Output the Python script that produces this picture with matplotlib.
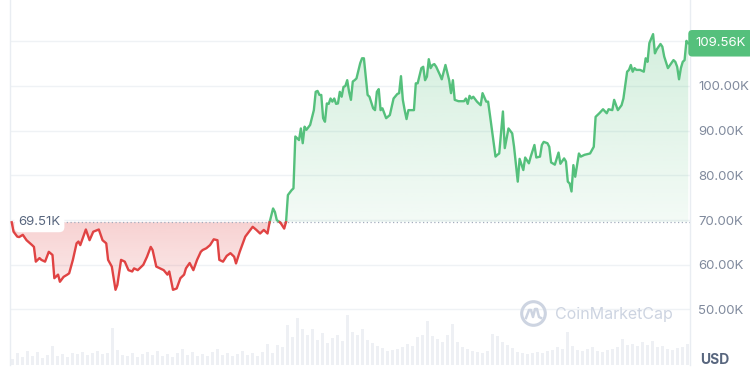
import numpy as np
import matplotlib
matplotlib.use('Agg')
import matplotlib.pyplot as plt
from matplotlib.patches import PathPatch
from matplotlib.path import Path
from matplotlib.lines import Line2D

plt.rcParams['font.family'] = ['Inter', 'DejaVu Sans']

# price in thousands USD, x = day index over the year
days = [0, 1, 3, 4, 6, 8, 11, 12, 13, 15, 16, 18, 20, 22, 23, 25, 26, 28, 30, 31,
        33, 35, 36, 37, 39, 40, 42, 44, 47, 49, 51, 52, 54, 56, 57, 59, 61, 63, 65, 66,
        68, 71, 73, 75, 76, 78, 80, 82, 84, 85, 87, 89, 91, 93, 94, 96, 98, 100, 102, 103,
        105, 107, 109, 111, 112, 114, 116, 118, 120, 121, 123, 126, 128, 130, 132, 134, 136, 138, 139, 141,
        142, 143, 145, 147, 148, 149, 151, 152, 153, 155, 156, 157, 158, 159, 161, 163, 164, 165, 166, 167,
        168, 169, 170, 171, 172, 173, 174, 175, 176, 177, 178, 179, 180, 181, 182, 183, 184, 185, 186, 188,
        189, 190, 191, 192, 193, 195, 196, 197, 198, 199, 200, 202, 204, 206, 208, 209, 210, 211, 212, 213,
        214, 217, 218, 219, 221, 222, 223, 224, 225, 226, 227, 228, 229, 231, 232, 234, 236, 237, 238, 239,
        241, 244, 245, 246, 247, 248, 249, 251, 253, 254, 256, 257, 258, 261, 262, 263, 265, 266, 268, 270,
        271, 273, 274, 276, 277, 279, 280, 282, 283, 285, 286, 287, 289, 290, 291, 293, 295, 296, 298, 299,
        300, 301, 302, 303, 304, 306, 307, 309, 312, 314, 315, 317, 319, 321, 322, 324, 325, 327, 329, 330,
        332, 333, 334, 335, 336, 337, 339, 341, 342, 343, 344, 346, 347, 348, 350, 351, 352, 354, 357, 358,
        359, 360, 361, 362, 363, 364, 365]
price = [69.51, 67.4, 66.3, 66.2, 66.7, 65.5, 64.4, 64.0, 60.7, 61.5, 61.1, 60.7, 62.9, 62.2, 57.0, 57.8, 56.2, 57.3, 57.8, 58.1,
         61.1, 64.8, 65.2, 64.4, 66.7, 67.9, 65.5, 67.4, 67.9, 65.5, 64.8, 61.1, 59.6, 54.4, 55.5, 61.1, 60.7, 58.8, 58.5, 59.2,
         58.8, 60.0, 61.8, 64.0, 63.3, 59.6, 59.2, 58.8, 57.8, 58.5, 54.4, 54.7, 57.0, 57.8, 59.2, 60.4, 58.8, 61.1, 62.9, 63.3,
         63.7, 64.4, 65.7, 65.5, 61.1, 60.7, 62.0, 62.6, 61.8, 60.3, 62.9, 66.3, 67.4, 68.5, 67.8, 67.0, 67.8, 67.0, 69.3, 72.6,
         71.8, 70.0, 69.4, 68.1, 69.6, 75.6, 76.7, 77.1, 88.7, 87.9, 90.5, 87.2, 90.9, 90.2, 91.3, 94.6, 98.7, 98.9, 98.0, 98.0,
         92.8, 92.0, 96.1, 96.0, 97.2, 96.5, 97.2, 96.0, 96.1, 98.7, 97.6, 99.8, 100.0, 101.3, 98.7, 96.9, 101.0, 101.3, 101.7, 105.1,
         106.2, 106.2, 102.1, 98.0, 97.6, 95.0, 94.6, 98.7, 99.3, 94.6, 95.0, 92.8, 93.5, 97.2, 98.2, 98.4, 102.2, 96.9, 94.6, 92.6,
         94.6, 94.6, 100.6, 100.6, 104.0, 104.3, 101.3, 102.1, 106.0, 104.0, 104.7, 104.9, 104.3, 102.5, 101.5, 104.7, 101.3, 98.4, 101.3, 96.9,
         96.6, 96.6, 97.2, 96.0, 97.8, 97.2, 97.6, 96.5, 95.7, 98.4, 96.5, 96.5, 93.5, 84.2, 84.6, 84.9, 94.3, 86.1, 90.5, 89.4,
         86.4, 78.6, 83.7, 81.2, 84.0, 82.7, 84.2, 86.8, 84.0, 84.2, 86.8, 87.5, 87.2, 86.4, 82.9, 82.4, 85.1, 82.6, 83.8, 83.1,
         78.6, 78.2, 76.4, 82.3, 79.7, 84.9, 84.2, 84.6, 84.9, 86.4, 93.1, 93.9, 94.8, 93.9, 94.8, 94.6, 96.9, 94.6, 95.7, 97.2,
         103.2, 103.6, 104.7, 103.2, 104.0, 103.6, 103.6, 103.2, 106.2, 105.4, 109.6, 111.6, 107.3, 108.2, 109.4, 108.8, 106.6, 104.0, 105.8, 105.4,
         104.3, 101.5, 104.0, 105.4, 105.8, 110.1, 109.56]

# volume (relative units), evenly spaced bars over the same period
volume = [6, 12, 8, 14, 9, 13,
          7, 10, 19, 9, 11, 8, 12,
          11, 13, 10, 12, 14, 11, 12,
          37, 15, 10,
          9, 12, 8, 11, 13, 10, 14, 9, 11, 8, 12, 16, 10, 13, 9,
          11, 9, 13, 16, 10, 12, 9, 11, 14, 10, 12, 9, 13, 21, 12, 20,
          18, 40, 28, 47, 36, 30, 36, 25, 32, 22, 27, 30, 24, 50,
          33, 30, 36, 25, 22, 19, 17, 14, 15, 16, 18, 21, 19, 28, 30, 44, 29, 26, 23, 30,
          41, 23, 18, 16, 14, 13, 12, 14, 31, 29, 23, 20, 17, 13, 12, 11, 12, 13, 12, 14,
          15, 18, 16, 33, 19, 15, 14, 16, 18, 14, 13, 15, 16, 18, 26, 20, 21, 19, 23, 20,
          24, 18, 19, 16, 15, 17, 18, 21]

base = 69.51
last = 109.56
ticks = [50, 60, 70, 80, 90, 100]
grid_levels = [50, 60, 70, 80, 90, 100, 110]

GREEN = '#55c07c'
RED = '#e04343'
GRID = '#eff2f5'
LABEL = '#808a9d'

fig = plt.figure(figsize=(7.5, 3.75), dpi=100)
rect = [10 / 750, 10 / 375, 680 / 750, 365 / 375]

# volume bars in the back
vax = fig.add_axes(rect, zorder=0)
vax.bar(np.arange(len(volume)), volume, width=0.75, color='#eef0f4', linewidth=0)
vax.set_xlim(-0.5, len(volume) - 0.5)
vax.set_ylim(0, 365)
vax.axis('off')

ax = fig.add_axes(rect, zorder=1)
ax.patch.set_alpha(0)

x = np.array(days, dtype=float)
y = np.array(price)

# insert the crossings with the open price so colours switch cleanly
xs, ys = [x[0]], [y[0]]
for i in range(1, len(x)):
    if (y[i - 1] - base) * (y[i] - base) < 0:
        t = (base - y[i - 1]) / (y[i] - y[i - 1])
        xs.append(x[i - 1] + t * (x[i] - x[i - 1]))
        ys.append(base)
    xs.append(x[i])
    ys.append(y[i])
xs = np.array(xs)
ys = np.array(ys)

xlim = (-0.92, 365.92)
ylim = (37.58, 119.24)

for lv in grid_levels:
    ax.axhline(lv, color=GRID, lw=1, zorder=0)


def gradient_fill(mask, color, a_top, a_bot, y_top, y_bot):
    poly = ax.fill_between(xs, ys, base, where=mask, facecolor='none', edgecolor='none')
    path = Path.make_compound_path(*poly.get_paths())
    patch = PathPatch(path, facecolor='none', edgecolor='none', transform=ax.transData)
    ax.add_patch(patch)
    rgb = matplotlib.colors.to_rgb(color)
    img = np.zeros((100, 1, 4))
    img[:, 0, :3] = rgb
    img[:, 0, 3] = np.linspace(a_top, a_bot, 100)
    im = ax.imshow(img, extent=[xlim[0], xlim[1], y_bot, y_top], aspect='auto',
                   origin='upper', zorder=1)
    im.set_clip_path(patch)


gradient_fill(ys >= base, GREEN, 0.26, 0.07, 113, base)
gradient_fill(ys <= base, RED, 0.24, 0.10, base, 53)

ax.plot(xs, np.where(ys >= base, ys, np.nan), color=GREEN, lw=1.7, zorder=3,
        solid_joinstyle='round')
ax.plot(xs, np.where(ys <= base, ys, np.nan), color=RED, lw=1.7, zorder=3,
        solid_joinstyle='round')

ax.axhline(base, color='#a3acbd', lw=0.9, ls=(0, (1, 2)), zorder=2)

ax.set_xlim(*xlim)
ax.set_ylim(*ylim)
ax.set_xticks([])
ax.yaxis.tick_right()
ax.set_yticks(ticks)
ax.set_yticklabels([f'{t:.2f}K' for t in ticks])
ax.tick_params(axis='y', length=0, pad=6, labelsize=9.5, labelcolor=LABEL)
for s in ['top', 'bottom']:
    ax.spines[s].set_visible(False)
for s in ['left', 'right']:
    ax.spines[s].set_color('#e9edf2')
    ax.spines[s].set_linewidth(1)

# open price tag on the left, last price tag on the right
ax.annotate(f'{base:.2f}K', xy=(0, base), xycoords=('axes fraction', 'data'),
            xytext=(6, 0), textcoords='offset points', ha='left', va='center',
            fontsize=9.5, color='#58667e', zorder=5,
            bbox=dict(boxstyle='round,pad=0.3,rounding_size=0.4', fc='white', ec='none'))
ax.annotate(f'{last:.2f}K', xy=(1, last), xycoords=('axes fraction', 'data'),
            xytext=(4, 0), textcoords='offset points', ha='left', va='center',
            fontsize=9.5, color='white', zorder=5, annotation_clip=False,
            bbox=dict(boxstyle='round,pad=0.55,rounding_size=0.3', fc=GREEN, ec='none'))

fig.text(700 / 750, 1 - 360 / 375, 'USD', fontsize=10, fontweight='bold',
         color='#58667e', ha='left', va='center')

# watermark
WM = '#cdd4e1'
fig.text(555 / 750, 1 - 314 / 375, 'CoinMarketCap', fontsize=11.5, color=WM,
         ha='left', va='center')
fig.add_artist(Line2D([533 / 750], [1 - 313 / 375], marker='o', ms=17, mfc='none',
                      mec=WM, mew=2.2, transform=fig.transFigure))
wx = np.array([526, 529, 531, 533, 535, 537, 539, 541]) / 750
wy = 1 - np.array([318, 310, 310, 317, 309, 309, 317, 318]) / 375
fig.add_artist(Line2D(wx, wy, color=WM, lw=1.8, transform=fig.transFigure,
                      solid_joinstyle='round'))

fig.savefig('out.png', dpi=100)
